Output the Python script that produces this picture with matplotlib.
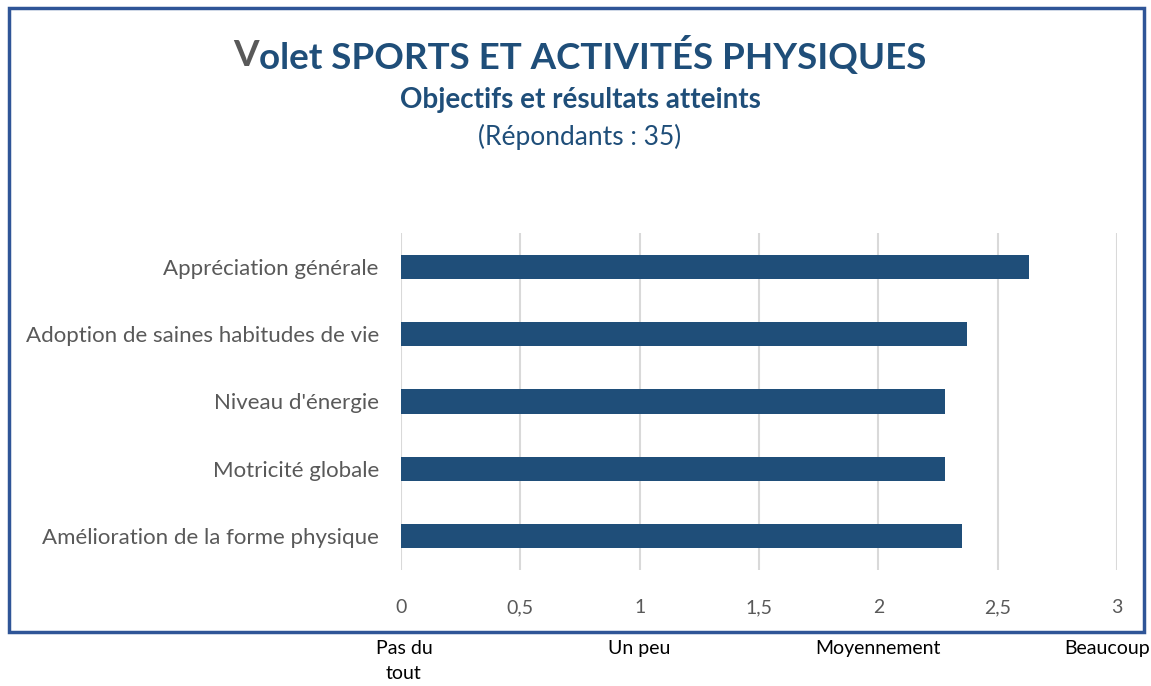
import matplotlib
matplotlib.use("Agg")
import matplotlib.pyplot as plt
import matplotlib.patches as mpatches

plt.rcParams["font.family"] = ["Lato", "DejaVu Sans"]

# données
categories = [
    "Appréciation générale",
    "Adoption de saines habitudes de vie",
    "Niveau d'énergie",
    "Motricité globale",
    "Amélioration de la forme physique",
]
scores = [2.63, 2.37, 2.28, 2.28, 2.35]
xticks = [0, 0.5, 1, 1.5, 2, 2.5, 3]
xtick_labels = ["0", "0,5", "1", "1,5", "2", "2,5", "3"]
scale_labels = ["Pas du\ntout", "Un peu", "Moyennement", "Beaucoup"]
scale_pos = [0, 1, 2, 3]

BLUE = "#1f4e79"
GREY = "#595959"

W, H = 1151, 686
fig = plt.figure(figsize=(W / 100, H / 100), dpi=100)
ax = fig.add_axes([401 / W, 1 - 570 / H, (1117 - 401) / W, (570 - 233) / H])

y = list(range(len(categories)))
ax.barh(y, scores, height=0.36, color=BLUE, zorder=3)
ax.set_ylim(len(categories) - 0.5, -0.5)
ax.set_xlim(0, 3)
ax.set_yticks(y)
ax.set_yticklabels(categories, fontsize=16, color=GREY)
ax.set_xticks(xticks)
ax.set_xticklabels(xtick_labels, fontsize=14, color=GREY)
ax.tick_params(axis="both", length=0)
ax.tick_params(axis="x", pad=21)
ax.tick_params(axis="y", pad=16)
ax.grid(axis="x", color="#d9d9d9", linewidth=1.5, zorder=0)
for s in ax.spines.values():
    s.set_visible(False)

# cadre bleu
fig.patches.append(mpatches.Rectangle(
    (9 / W, 1 - 632 / H), (1144 - 9) / W, (632 - 8) / H,
    transform=fig.transFigure, fill=False, edgecolor="#2f5597", linewidth=2.5))

# titre : "V" en gris, le reste en bleu
renderer = fig.canvas.get_renderer()
t_v = fig.text(0, 1 - 55 / H, "V", fontsize=26.5, fontweight="bold", color=GREY,
               va="center", ha="left")
t_rest = fig.text(0, 1 - 55 / H, "olet SPORTS ET ACTIVITÉS PHYSIQUES", fontsize=26.5,
                  fontweight="bold", color=BLUE, va="center", ha="left")
wv = t_v.get_window_extent(renderer).width
wr = t_rest.get_window_extent(renderer).width
x0 = 580 - (wv + wr) / 2
t_v.set_x(x0 / W)
t_rest.set_x((x0 + wv) / W)

fig.text(580 / W, 1 - 100 / H, "Objectifs et résultats atteints", fontsize=20,
         fontweight="bold", color=BLUE, ha="center", va="center")
fig.text(580 / W, 1 - 137 / H, "(Répondants : 35)", fontsize=19,
         color=BLUE, ha="center", va="center")

# échelle sous le cadre
for lab, p in zip(scale_labels, scale_pos):
    xpix = 401 + p * (1117 - 401) / 3
    if p == 0:
        xpix = 404
    if p == 3:
        xpix = 1107
    fig.text(xpix / W, 1 - 640 / H, lab, fontsize=14, color="black",
             ha="center", va="top", linespacing=1.55)

fig.savefig("out.png", dpi=100)
